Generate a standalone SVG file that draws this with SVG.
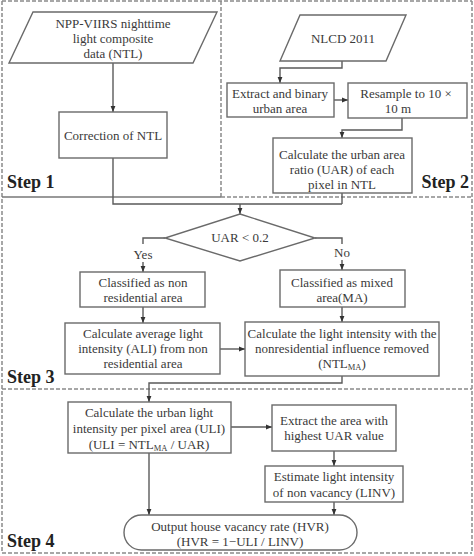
<svg xmlns="http://www.w3.org/2000/svg" width="474" height="556" viewBox="0 0 474 556">
<defs>
<style>
.frame{fill:none;stroke:#8a8a8a;stroke-width:1.5;stroke-dasharray:4 2}
.solid{fill:none;stroke:#777;stroke-width:1.5}
.box{fill:#fff;stroke:#6a6a6a;stroke-width:1.4}
.t{font-family:"Liberation Serif","Times New Roman",serif;font-size:13px;fill:#3a3a3a;text-anchor:middle}
.step{font-family:"Liberation Serif","Times New Roman",serif;font-size:18px;font-weight:bold;fill:#222}
.c{fill:none;stroke:#5a5a5a;stroke-width:1.4}
.sub{font-size:8.5px}
</style>
<marker id="ah" viewBox="0 0 10 10" refX="10" refY="5" markerWidth="6" markerHeight="6" orient="auto" markerUnits="userSpaceOnUse">
<path d="M0,1 L10,5 L0,9 z" fill="#333"/>
</marker>
</defs>
<rect width="474" height="556" fill="#fff"/>
<g id="frames">
<line class="frame" x1="2" y1="1" x2="472" y2="1"/>
<line class="frame" x1="2" y1="1" x2="2" y2="553"/>
<line class="frame" x1="472" y1="1" x2="472" y2="553"/>
<line class="frame" x1="2" y1="553" x2="472" y2="553"/>
<line class="frame" x1="221" y1="1" x2="221" y2="197"/>
<line class="solid" x1="2" y1="197" x2="221" y2="197"/>
<line class="frame" x1="221" y1="197" x2="472" y2="197"/>
<line class="frame" x1="2" y1="389" x2="472" y2="389"/>
<text class="step" x="7" y="188">Step 1</text>
<text class="step" x="469" y="188" text-anchor="end">Step 2</text>
<text class="step" x="7" y="383">Step 3</text>
<text class="step" x="7" y="547">Step 4</text>
</g>
<g id="connectors">
<path class="c" d="M113,63 V112" marker-end="url(#ah)"/>
<path class="c" d="M113,158 V204 H342"/>
<path class="c" d="M342,61 V68 H280 V83" marker-end="url(#ah)"/>
<path class="c" d="M334,100 H348" marker-end="url(#ah)"/>
<path class="c" d="M402,118 V130 H342 V138" marker-end="url(#ah)"/>
<path class="c" d="M342,193 V204"/>
<path class="c" d="M240,204 V214" marker-end="url(#ah)"/>
<path class="c" d="M165,238 H143 V244"/>
<path class="c" d="M143,262 V272" marker-end="url(#ah)"/>
<text class="t" x="143" y="259">Yes</text>
<path class="c" d="M315,238 H342 V244"/>
<path class="c" d="M342,260 V270" marker-end="url(#ah)"/>
<text class="t" x="342" y="257">No</text>
<path class="c" d="M143,307 V323" marker-end="url(#ah)"/>
<path class="c" d="M342,307 V322" marker-end="url(#ah)"/>
<path class="c" d="M220,349 H245" marker-end="url(#ah)"/>
<path class="c" d="M342,376 V383 H149 V402" marker-end="url(#ah)"/>
<path class="c" d="M231,427 H272" marker-end="url(#ah)"/>
<path class="c" d="M334,451 V466" marker-end="url(#ah)"/>
<path class="c" d="M334,502 V515" marker-end="url(#ah)"/>
<path class="c" d="M149,453 V515" marker-end="url(#ah)"/>
</g>
<g id="ntl">
<polygon class="box" points="33,12 217,12 193,63 9,63"/>
<text class="t" x="113" y="28">NPP-VIIRS nighttime</text>
<text class="t" x="113" y="43">light composite</text>
<text class="t" x="113" y="58">data (NTL)</text>
</g>
<g id="correction">
<rect class="box" x="59" y="112" width="108" height="46"/>
<text class="t" x="113" y="140">Correction of NTL</text>
</g>
<g id="nlcd">
<polygon class="box" points="300,15 406,15 386,61 280,61"/>
<text class="t" x="343" y="43">NLCD 2011</text>
</g>
<g id="extract">
<rect class="box" x="227" y="83" width="107" height="34"/>
<text class="t" x="280" y="98">Extract and binary</text>
<text class="t" x="280" y="113">urban area</text>
</g>
<g id="resample">
<rect class="box" x="348" y="83" width="119" height="35"/>
<text class="t" x="406" y="98">Resample to 10 ×</text>
<text class="t" x="398" y="113">10 m</text>
</g>
<g id="uar">
<rect class="box" x="273" y="138" width="139" height="55"/>
<text class="t" x="342" y="159">Calculate the urban area</text>
<text class="t" x="342" y="174">ratio (UAR) of each</text>
<text class="t" x="342" y="189">pixel in NTL</text>
</g>
<g id="decision">
<polygon class="box" points="240,214 315,238 240,261 165,238"/>
<text class="t" x="240" y="242">UAR &lt; 0.2</text>
</g>
<g id="nonres">
<rect class="box" x="80" y="272" width="125" height="35"/>
<text class="t" x="143" y="287">Classified as non</text>
<text class="t" x="143" y="302">residential area</text>
</g>
<g id="mixed">
<rect class="box" x="280" y="270" width="125" height="37"/>
<text class="t" x="342" y="287">Classified as mixed</text>
<text class="t" x="342" y="302">area(MA)</text>
</g>
<g id="ali">
<rect class="box" x="65" y="323" width="155" height="51"/>
<text class="t" x="143" y="338">Calculate average light</text>
<text class="t" x="143" y="353">intensity (ALI) from  non</text>
<text class="t" x="143" y="368">residential area</text>
</g>
<g id="ntlma">
<rect class="box" x="245" y="322" width="194" height="54"/>
<text class="t" x="342" y="338">Calculate the light intensity with the</text>
<text class="t" x="342" y="353">nonresidential influence removed</text>
<text class="t" x="342" y="368">(NTL<tspan class="sub" dy="2">MA</tspan><tspan dy="-2">)</tspan></text>
</g>
<g id="uli">
<rect class="box" x="68" y="402" width="163" height="51"/>
<text class="t" x="149" y="417">Calculate the urban light</text>
<text class="t" x="149" y="433">intensity per pixel area (ULI)</text>
<text class="t" x="149" y="449">(ULI = NTL<tspan class="sub" dy="2">MA</tspan><tspan dy="-2"> / UAR)</tspan></text>
</g>
<g id="highest">
<rect class="box" x="272" y="405" width="124" height="46"/>
<text class="t" x="334" y="425">Extract the area with</text>
<text class="t" x="334" y="440">highest UAR value</text>
</g>
<g id="linv">
<rect class="box" x="265" y="466" width="138" height="36"/>
<text class="t" x="334" y="481">Estimate light intensity</text>
<text class="t" x="334" y="497">of  non vacancy (LINV)</text>
</g>
<g id="output">
<rect class="box" x="124" y="515" width="233" height="35" rx="17.5" ry="17.5"/>
<text class="t" x="240" y="531">Output house vacancy rate (HVR)</text>
<text class="t" x="240" y="546">(HVR = 1−ULI / LINV)</text>
</g>
</svg>
